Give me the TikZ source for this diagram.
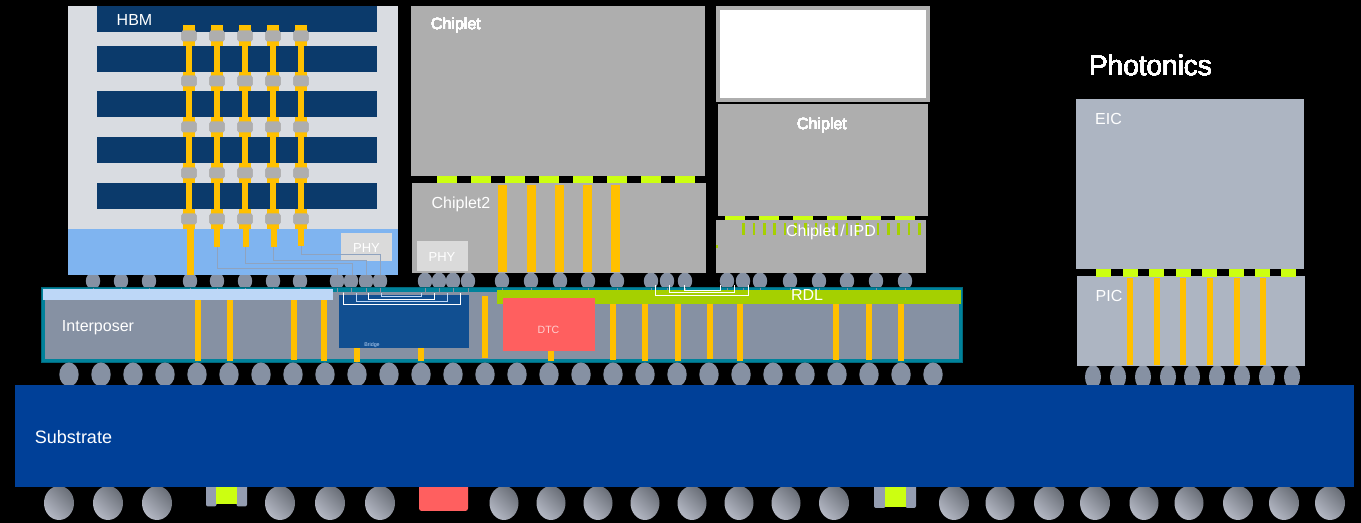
\documentclass[tikz,border=0pt]{standalone}
\usepackage{fontspec}
\setmainfont{Liberation Sans}
\definecolor{navy}{HTML}{0B3A6B}
\definecolor{hbmgray}{HTML}{D9DCE1}
\definecolor{hbmblue}{HTML}{7FB4F0}
\definecolor{gold}{HTML}{FFC000}
\definecolor{blob}{HTML}{AEAEAE}
\definecolor{bump}{HTML}{8691A3}
\definecolor{teal2}{HTML}{00829B}
\definecolor{lightbar}{HTML}{BDD7F7}
\definecolor{bridgeblue}{HTML}{114F91}
\definecolor{rdlgreen}{HTML}{A5D000}
\definecolor{dtcred}{HTML}{FF5F5F}
\definecolor{subblue}{HTML}{004098}
\definecolor{chipgray}{HTML}{AEAEAE}
\definecolor{padgreen}{HTML}{CCFF11}
\definecolor{phot}{HTML}{ADB5C2}
\definecolor{capgray}{HTML}{949DB1}
\definecolor{wire}{HTML}{8FA3BF}
\definecolor{phyfill}{HTML}{DADADA}
\definecolor{ballA}{HTML}{B4B8C4}
\definecolor{ballB}{HTML}{6A6F78}
\tikzset{
 x=0.75pt,y=-0.75pt,
 lbl/.style={text=white,inner sep=0pt,font=\fontsize{12}{14}\selectfont},
 smalllbl/.style={lbl,font=\fontsize{9.75}{12}\selectfont},
 wirepath/.style={draw=wire,line width=0.75pt},
 brk/.style={draw=white,line width=0.75pt},
 brklt/.style={draw=lightbar,line width=0.75pt},
}
\newcommand{\bx}[5]{\fill[#1] (#2,#3) rectangle (#4,#5);}
\begin{document}
\begin{tikzpicture}
\useasboundingbox (0,0) rectangle (1361,523);
\fill[black] (0,0) rectangle (1361,523);
% ---- upper bumps
\foreach \x in {93,121,149,190,217,245,273,300,337,351,366,380,425,439,453,468,502,531,560,588,617,651,667,685,727,743,760,790,819,847,876,905}
  \fill[bump] (\x,281) ellipse [x radius=7.2,y radius=8.5];
% ---- HBM
\bx{hbmgray}{68}{6}{398}{229}
\bx{hbmblue}{68}{229}{398}{275}
\foreach \y in {6,46,91,137,183} \bx{navy}{97}{\y}{377}{\y+26}
\foreach \x in {189,217,245,273,301}{
  \bx{gold}{\x-3}{40}{\x+3}{229}
  \foreach \y/\a/\b in {36/25/46,81/72/91,127/117/137,173/163/183,219/209/229}{
    \bx{gold}{\x-6}{\a}{\x+6}{\b}
    \fill[blob,rounded corners=1.5pt] (\x-7.3,\y-5.5) rectangle (\x+7.3,\y+5.5);
  }
}
\bx{gold}{187}{229}{194}{275}
\bx{gold}{214}{229}{220}{247}
\bx{gold}{243}{229}{249}{247}
\bx{gold}{271}{229}{277}{247}
\bx{gold}{298}{229}{304}{246}
\bx{phyfill}{341}{233}{392}{261}
\node[smalllbl] (phyA) at (366.5,248) {PHY};
\node[lbl] (hbm) at (134.5,20.5) {HBM};
\coordinate (w1a) at (217,247); \coordinate (w1b) at (337,275);
\coordinate (w2a) at (245,247); \coordinate (w2b) at (352,275);
\coordinate (w3a) at (273,247); \coordinate (w3b) at (366,275);
\coordinate (w4a) at (301,246); \coordinate (w4b) at (380,275);
\draw[wirepath] (w1a) -- ++(0,22) -| (w1b);
\draw[wirepath] (w2a) -- ++(0,17) -| (w2b);
\draw[wirepath] (w3a) -- ++(0,14) -| (w3b);
\draw[wirepath] (w4a) -- ++(0,9) -| (w4b);
% ---- Chiplet column
\bx{chipgray}{411}{6}{705}{176}
\bx{chipgray}{412}{183}{706}{273}
\foreach \x in {437,471,505,539,573,607,641,675} \bx{padgreen}{\x}{176}{\x+20}{183.5}
\foreach \x in {498,527,555,583,611} \bx{gold}{\x}{185}{\x+9}{272}
\bx{phyfill}{417}{241}{468}{271}
\node[lbl] (chipA) at (456,25.6) {Chiplet};
\node[lbl] (chipB) at (461,204) {Chiplet2};
\node[smalllbl] (phyB) at (442,257) {PHY};
% ---- right stack
\bx{chipgray}{716}{6}{930}{102}
\bx{white}{720}{10}{926}{98}
\bx{chipgray}{718}{104}{928}{216}
\bx{chipgray}{716}{220}{926}{273}
\foreach \x in {725,759,793,827,861,895} \bx{padgreen}{\x}{216}{\x+19.5}{220}
\foreach \i in {0,...,17} \bx{rdlgreen}{742.2+\i*10.35}{223}{744.8+\i*10.35}{235}
\bx{rdlgreen}{716}{245}{718}{248}
\node[lbl] (chipC) at (822,125.6) {Chiplet};
\node[lbl] (chipD) at (831,232) {Chiplet / IPD};
% ---- interposer
\fill[teal2,draw=black!20!teal2,line width=.75pt] (41.5,288) rectangle (962,363);
\bx{bump}{45}{292}{959}{359}
\foreach \x in {93,121,149,190,217,245,273,300,337,351,366,380,425,439,453,468,502,531,560,588,617,651,667,685,727,743,760,790,819,847,876,905}
  \bx{bump}{\x-.4}{288}{\x+.4}{292}
\bx{lightbar}{43}{289}{333}{300}
\bx{bridgeblue}{339}{295}{469}{348}
\bx{rdlgreen}{497}{290}{961}{304}
\bx{dtcred}{503}{298}{595}{351}
\foreach \a/\b/\c in {195/201/361,227/233/361,291/297/360,321/327/361} \bx{gold}{\a}{300}{\b}{\c}
\bx{gold}{354}{348}{360}{362}
\bx{gold}{418}{348}{424}{361}
\bx{gold}{482}{296}{488}{358}
\bx{gold}{548}{351}{554}{361}
\foreach \a/\c in {610/360,642/361,675/361,707/359,737/361,833/360,866/360,898/361} \bx{gold}{\a}{304}{\a+6}{\c}
% bridge brackets
\draw[brk] (343,293) |- (460,304.5) -- (460,293);
\draw[brklt] (356,293) |- (447,302) -- (447,293);
\draw[brk] (368,293) |- (434,300) -- (434,293);
\draw[brklt] (381,293) |- (421,297) -- (421,293);
% RDL brackets
\draw[brk] (655,285) |- (748,296) -- (748,285);
\draw[brk] (669,285) |- (734,293) -- (734,285);
\draw[brk] (684,285) |- (720,291) -- (720,285);
\node[lbl] (interposer) at (98,327.5) {Interposer};
\node[lbl] (rdl) at (807,295) {RDL};
\node[lbl,font=\fontsize{7.9}{10}\selectfont,text=white!70!dtcred] (dtc) at (548.5,330) {DTC};
\node[lbl,font=\fontsize{4}{5}\selectfont,text=lightbar] (bridge) at (372,345) {Bridge};
% ---- lower bumps
\foreach \i in {0,...,27} \fill[bump] (69+\i*32,374.5) ellipse [x radius=9.7,y radius=12];
\foreach \x in {1093,1118,1143,1168,1192,1217,1242,1267,1292} \fill[bump] (\x,377) ellipse [x radius=8,y radius=12];
% ---- photonics
\bx{phot}{1076}{99}{1304}{269}
\bx{phot}{1077}{276}{1305}{366}
\foreach \x in {1096,1123,1149,1176,1202,1229,1255,1281} \bx{padgreen}{\x}{269}{\x+15}{277}
\foreach \x in {1127,1154,1180,1207,1234,1260} \bx{gold}{\x}{278}{\x+6}{365}
\node[lbl,font=\fontsize{21}{25}\selectfont] (phot) at (1150.5,65.6) {Photonics};
\node[lbl] (eic) at (1108.5,118.5) {EIC};
\node[lbl] (pic) at (1109,295.5) {PIC};
% ---- bottom components
\foreach \x/\rx in {59/15,108/15,157/15,280/15,330/15,380/15,504/14.5,551/14.5,598/14.5,645/14.5,692/14.5,739/14.5,786/14.5,834/15,954/15,1000/14.5,1049/15,1095/15,1144/14.5,1189/14.5,1238/15,1284/15,1330/15}
  \shade[left color=ballA,right color=ballB,shading angle=135]
    (\x,503) ellipse [x radius=\rx,y radius=17];
\fill[capgray,rounded corners=1.5pt] (206,480) rectangle (216.5,506.5);
\fill[capgray,rounded corners=1.5pt] (236.5,480) rectangle (247,506.5);
\bx{padgreen}{216}{480}{237}{504}
\fill[capgray,rounded corners=1.5pt] (874,480) rectangle (885.5,508);
\fill[capgray,rounded corners=1.5pt] (905.5,480) rectangle (916,508);
\bx{padgreen}{885}{480}{906}{507}
\fill[dtcred,rounded corners=2pt] (419,480) rectangle (468,511);
% ---- substrate
\bx{subblue}{15}{385}{1354}{487}
\node[lbl,font=\fontsize{13.5}{16}\selectfont] (substrate) at (73.5,437) {Substrate};
\end{tikzpicture}
\end{document}
